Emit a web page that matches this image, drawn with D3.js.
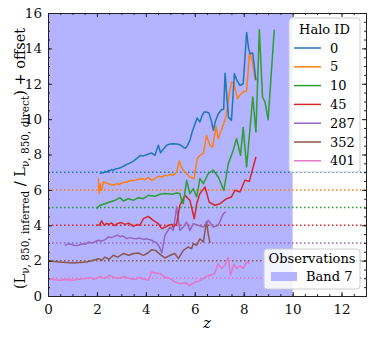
<!DOCTYPE html>
<html>
<head>
<meta charset="utf-8">
<script src="https://cdn.jsdelivr.net/npm/d3@7"></script>
<style>
  body { margin: 0; background: #fff; }
  text { font-family: "DejaVu Serif", serif; }
</style>
</head>
<body>
<div id="chart"></div>
<script>
// halo ids and their offsets
const haloIds = ["0", "5", "10", "45", "287", "352", "401"];
const offsets = [7, 6, 5, 4, 3, 2, 1];
const colors = ["#1f77b4", "#ff7f0e", "#2ca02c", "#d62728", "#9467bd", "#8c564b", "#e377c2"];

// [z, ratio + offset]
const halo0 = [[2.12,6.92],[2.2,7.0],[2.26,6.95],[2.33,7.05],[2.4,7.0],[2.47,7.1],[2.53,7.08],[2.6,7.15],[2.67,7.1],[2.74,7.18],[2.81,7.2],[2.9,7.22],[3.01,7.29],[3.1,7.35],[3.22,7.44],[3.32,7.5],[3.42,7.57],[3.52,7.65],[3.62,7.77],[3.7,7.85],[3.76,7.95],[3.9,7.92],[4.03,7.99],[4.14,8.04],[4.24,8.08],[4.37,7.95],[4.51,8.52],[4.6,8.1],[4.65,8.2],[4.75,8.35],[4.85,8.52],[5.0,8.6],[5.12,8.61],[5.25,8.6],[5.33,8.58],[5.45,8.5],[5.53,8.42],[5.62,8.35],[5.7,8.5],[5.8,8.8],[5.9,9.3],[6.0,9.7],[6.1,10.06],[6.21,9.84],[6.3,10.2],[6.38,10.4],[6.48,10.4],[6.58,10.35],[6.68,9.9],[6.76,9.37],[6.85,9.9],[6.96,10.3],[7.1,10.54],[7.18,10.55],[7.24,12.6],[7.31,11.3],[7.38,10.1],[7.5,9.93],[7.62,12.57],[7.72,12.2],[7.85,11.9],[7.98,12.0],[8.12,14.9],[8.2,14.0],[8.26,13.7],[8.37,13.74],[8.5,12.2]];
const halo5 = [[2.06,6.64],[2.08,5.79],[2.12,6.35],[2.19,5.98],[2.26,6.44],[2.36,6.4],[2.47,6.35],[2.57,6.3],[2.67,6.26],[2.81,6.35],[2.9,6.3],[3.01,6.39],[3.1,6.42],[3.22,6.44],[3.32,6.5],[3.42,6.54],[3.52,6.52],[3.62,6.58],[3.72,6.6],[3.83,6.64],[3.96,6.58],[4.1,6.69],[4.24,6.54],[4.37,6.64],[4.51,6.77],[4.65,6.73],[4.78,6.82],[4.9,6.8],[4.99,6.88],[5.12,6.82],[5.26,7.01],[5.37,7.63],[5.45,7.3],[5.53,7.11],[5.67,6.92],[5.8,6.73],[5.97,6.64],[6.1,7.77],[6.21,7.95],[6.35,8.05],[6.48,9.08],[6.62,8.52],[6.73,8.42],[6.87,9.59],[6.96,8.9],[7.14,9.55],[7.27,10.12],[7.41,11.4],[7.5,12.1],[7.6,12.0],[7.75,11.16],[7.87,11.4],[7.98,11.53],[8.12,11.59],[8.24,13.8],[8.37,13.14],[8.47,12.2]];
const halo10 = [[1.99,4.94],[2.12,5.13],[2.33,5.22],[2.53,5.31],[2.74,5.41],[2.94,5.56],[3.08,5.37],[3.28,5.5],[3.49,5.41],[3.69,5.56],[3.9,5.5],[4.1,5.69],[4.37,5.64],[4.58,5.75],[4.78,5.79],[5.06,5.75],[5.26,5.82],[5.39,5.79],[5.46,5.41],[5.53,5.22],[5.67,6.54],[5.8,5.79],[5.94,6.07],[6.08,5.6],[6.21,6.64],[6.35,6.35],[6.55,6.92],[6.76,7.11],[6.96,6.73],[7.19,5.97],[7.37,7.48],[7.5,7.95],[7.57,8.24],[7.71,8.9],[7.87,7.95],[7.98,9.52],[8.12,7.3],[8.37,11.25],[8.5,9.27],[8.64,15.06],[8.77,11.25],[8.87,10.97],[9.0,9.97],[9.25,15.06]];
const halo45 = [[1.99,4.0],[2.1,4.02],[2.19,4.24],[2.3,4.0],[2.4,4.1],[2.5,4.05],[2.6,4.13],[2.72,3.98],[2.85,4.1],[3.0,4.15],[3.15,4.05],[3.3,4.12],[3.49,3.94],[3.65,4.05],[3.75,4.0],[3.9,4.37],[4.1,4.5],[4.3,4.28],[4.51,4.09],[4.65,3.81],[4.8,3.9],[4.92,4.0],[5.06,4.05],[5.12,3.9],[5.26,4.09],[5.39,5.13],[5.6,5.69],[5.8,5.41],[5.98,4.37],[6.08,5.22],[6.21,5.79],[6.42,6.16],[6.59,5.31],[6.82,5.13],[7.03,5.22],[7.3,5.5],[7.5,5.6],[7.64,5.98],[7.85,5.88],[8.05,6.54],[8.23,6.48],[8.5,7.86]];
const halo287 = [[0.69,2.87],[0.85,2.95],[1.0,2.9],[1.1,2.85],[1.24,2.87],[1.4,2.95],[1.55,2.93],[1.65,3.05],[1.8,3.0],[1.9,3.05],[2.06,3.15],[2.2,3.1],[2.35,3.2],[2.47,3.34],[2.6,3.3],[2.75,3.4],[2.87,3.43],[2.95,3.35],[3.05,3.4],[3.22,3.24],[3.35,3.3],[3.5,3.25],[3.62,3.24],[3.75,3.28],[3.9,3.2],[4.03,3.24],[4.24,3.15],[4.44,3.0],[4.55,2.8],[4.65,2.43],[4.78,3.43],[4.99,3.9],[5.12,3.71],[5.26,5.03],[5.39,3.71],[5.53,3.9],[5.67,4.18],[5.8,3.71],[5.94,4.09],[6.14,4.0],[6.35,3.9],[6.55,4.28],[6.76,3.9],[6.96,4.0],[7.17,4.66],[7.27,4.75]];
const halo352 = [[0,1.98],[0.25,1.95],[0.49,1.92],[0.75,1.9],[1.03,1.87],[1.3,1.9],[1.58,1.92],[1.85,2.02],[2.06,2.11],[2.2,2.02],[2.33,2.2],[2.5,2.08],[2.67,2.3],[2.85,2.2],[3.08,2.4],[3.3,2.3],[3.5,2.4],[3.69,2.43],[3.9,2.3],[4.05,2.4],[4.24,2.62],[4.4,2.58],[4.58,2.35],[4.78,2.15],[4.99,2.3],[5.19,2.4],[5.33,2.11],[5.53,2.58],[5.73,2.77],[5.87,2.68],[5.94,2.96],[6.08,2.87],[6.21,3.24],[6.35,3.05],[6.48,4.2],[6.55,3.53],[6.62,3.0]];
const halo401 = [[0,0.98],[0.25,0.92],[0.49,0.89],[0.75,0.93],[1.03,0.89],[1.25,0.95],[1.45,0.97],[1.72,1.04],[1.85,0.95],[2.0,1.0],[2.12,1.11],[2.3,1.0],[2.53,1.17],[2.7,1.05],[2.9,1.0],[3.1,1.1],[3.3,1.0],[3.56,0.93],[3.75,1.05],[3.95,0.95],[4.1,0.89],[4.24,1.36],[4.4,1.3],[4.58,1.27],[4.78,1.07],[4.99,0.98],[5.19,0.79],[5.39,0.7],[5.6,0.75],[5.8,0.6],[6.01,0.79],[6.2,0.85],[6.42,1.07],[6.62,1.17],[6.8,1.25],[6.96,1.83],[7.1,1.55],[7.23,1.74],[7.37,2.17],[7.46,1.17],[7.6,1.8],[7.71,1.55],[7.85,1.7],[7.98,1.55],[8.12,1.92],[8.26,1.83]];
const allSeries = [halo0, halo5, halo10, halo45, halo287, halo352, halo401];

// band 7 redshift coverage
const band7 = [0, 10];
const xTicks = [0, 2, 4, 6, 8, 10, 12];
const yTicks = [0, 2, 4, 6, 8, 10, 12, 14, 16];

const W = 374, H = 339;
const margin = {left: 48, right: 8, top: 13, bottom: 43};
const w = W - margin.left - margin.right;
const h = H - margin.top - margin.bottom;

const svg = d3.select("#chart").append("svg")
  .attr("width", W).attr("height", H);
const g = svg.append("g")
  .attr("transform", "translate(" + margin.left + "," + margin.top + ")");

const x = d3.scaleLinear().domain([0, 13]).range([0, w]);
const y = d3.scaleLinear().domain([0, 16]).range([h, 0]);

g.append("defs").append("clipPath").attr("id", "clip")
  .append("rect").attr("width", w).attr("height", h);

// band shading
g.append("rect")
  .attr("x", x(band7[0])).attr("y", 0)
  .attr("width", x(band7[1]) - x(band7[0])).attr("height", h)
  .attr("fill", "#b3b3ff");

// offset reference lines
g.selectAll(".ref").data(offsets).enter().append("line")
  .attr("x1", 0).attr("x2", w)
  .attr("y1", d => y(d)).attr("y2", d => y(d))
  .attr("stroke", (d, i) => colors[i])
  .attr("stroke-width", 1.5)
  .attr("stroke-dasharray", "1.5,2.5");

const line = d3.line().x(d => x(d[0])).y(d => y(d[1]));
const lines = g.append("g").attr("clip-path", "url(#clip)");
// draw bottom series first so blue ends up on top
for (let i = allSeries.length - 1; i >= 0; i--) {
  lines.append("path")
    .attr("d", line(allSeries[i]))
    .attr("fill", "none")
    .attr("stroke", colors[i])
    .attr("stroke-width", 1.5)
    .attr("stroke-linejoin", "round");
}

// axes with inward ticks on all sides
function tickAxis(axis, minors, size) {
  return axis.tickValues(minors).tickSize(size).tickFormat("");
}
const xMinor = d3.range(0, 13.01, 0.5);
const yMinor = d3.range(0, 16.01, 0.5);

g.append("g").attr("transform", "translate(0," + h + ")")
  .call(d3.axisBottom(x).tickValues(xTicks).tickSize(-4).tickPadding(8));
g.append("g").attr("transform", "translate(0," + h + ")")
  .call(tickAxis(d3.axisBottom(x), xMinor, -2));
g.append("g").call(tickAxis(d3.axisTop(x), xTicks, -4));
g.append("g").call(tickAxis(d3.axisTop(x), xMinor, -2));

g.append("g")
  .call(d3.axisLeft(y).tickValues(yTicks).tickSize(-4).tickPadding(6));
g.append("g").call(tickAxis(d3.axisLeft(y), yMinor, -2));
g.append("g").attr("transform", "translate(" + w + ",0)")
  .call(tickAxis(d3.axisRight(y), yTicks, -4));
g.append("g").attr("transform", "translate(" + w + ",0)")
  .call(tickAxis(d3.axisRight(y), yMinor, -2));

g.selectAll(".domain").attr("stroke", "#222").attr("stroke-width", 1);
g.selectAll(".tick line").attr("stroke", "#222");
g.selectAll(".tick text")
  .attr("font-family", "DejaVu Serif").attr("font-size", 13.5).attr("fill", "#111");

// axis labels
svg.append("text")
  .attr("x", margin.left + x(6.5)).attr("y", 328)
  .attr("text-anchor", "middle")
  .attr("font-size", 15).attr("font-style", "italic")
  .text("z");

const yl = svg.append("text")
  .attr("transform", "translate(25," + (margin.top + h / 2 + 4) + ") rotate(-90)")
  .attr("text-anchor", "middle")
  .attr("font-size", 14.5);
yl.append("tspan").text("(L");
yl.append("tspan").attr("font-size", 10.5).attr("dy", 3.5).text("ν, 850, inferred");
yl.append("tspan").attr("dy", -3.5).text(" / L");
yl.append("tspan").attr("font-size", 10.5).attr("dy", 3.5).text("ν, 850, direct");
yl.append("tspan").attr("dy", -3.5).text(") + offset");

// legend: halo id
const leg = svg.append("g").attr("transform", "translate(289,18)");
leg.append("rect")
  .attr("width", 71).attr("height", 154).attr("rx", 3)
  .attr("fill", "#fff").attr("fill-opacity", 0.85)
  .attr("stroke", "#cccccc");
leg.append("text").attr("x", 35.5).attr("y", 16)
  .attr("text-anchor", "middle").attr("font-size", 13).text("Halo ID");
const items = leg.selectAll(".item").data(haloIds).enter().append("g")
  .attr("transform", (d, i) => "translate(0," + (30 + i * 18.8) + ")");
items.append("line")
  .attr("x1", 5).attr("x2", 32).attr("y1", 0).attr("y2", 0)
  .attr("stroke", (d, i) => colors[i]).attr("stroke-width", 1.5);
items.append("text").attr("x", 41).attr("y", 4.5)
  .attr("font-size", 13).text(d => d);

// legend: observations
const leg2 = svg.append("g").attr("transform", "translate(264,249)");
leg2.append("rect")
  .attr("width", 96).attr("height", 40).attr("rx", 3)
  .attr("fill", "#fff").attr("fill-opacity", 0.85)
  .attr("stroke", "#cccccc");
leg2.append("text").attr("x", 48).attr("y", 14)
  .attr("text-anchor", "middle").attr("font-size", 13).text("Observations");
leg2.append("rect")
  .attr("x", 7).attr("y", 23).attr("width", 26).attr("height", 9)
  .attr("fill", "#b3b3ff");
leg2.append("text").attr("x", 42).attr("y", 32)
  .attr("font-size", 13).text("Band 7");
</script>
</body>
</html>
